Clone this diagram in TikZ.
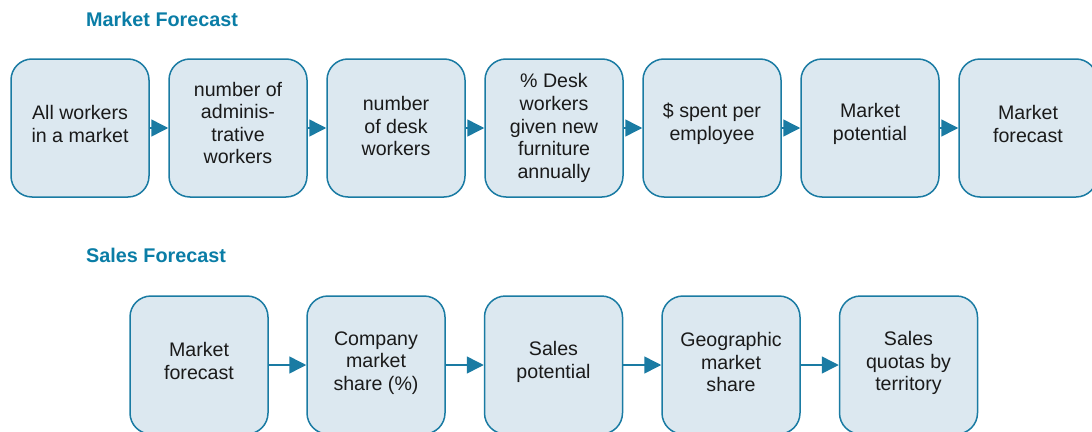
\documentclass[tikz,border=0pt]{standalone}
\usepackage{fontspec}
\setmainfont{Liberation Sans}
\usetikzlibrary{arrows.meta}
\definecolor{edge}{HTML}{1A7BA3}
\definecolor{boxfill}{HTML}{DCE8F0}
\definecolor{titleblue}{HTML}{0A7DA6}
\definecolor{txt}{HTML}{1A1A1A}
\tikzset{
  stepbox/.style={draw=edge, fill=boxfill, line width=1.5pt, rounded corners=21pt,
    minimum width=138pt, minimum height=138pt, inner sep=0pt},
  boxtext/.style={align=center, text=txt, font=\fontsize{19.6}{22.6}\selectfont, inner sep=0pt},
  flow/.style={draw=edge, line width=1.5pt, -{Triangle[length=17pt,width=17pt]}},
  title/.style={anchor=west, text=titleblue, font=\bfseries\fontsize{19.8}{22}\selectfont, inner sep=0pt}
}
\newcommand{\stepnode}[4][4pt]{\node[stepbox, label={[boxtext, yshift=#1, name=#2t]center:{#4}}] (#2) at #3 {};}
\begin{document}
\begin{tikzpicture}[x=1pt,y=-1pt]
\useasboundingbox (0,0) rectangle (1092,431);
\clip (0,0) rectangle (1092,431);
\node[title] (t1) at (86,19) {Market Forecast};
\node[title] (t2) at (86,255) {Sales Forecast};
\stepnode{a1}{(80,128)}{All workers\\in a market}
\stepnode[5pt]{a2}{(238,128)}{number of\\adminis-\\trative\\workers}
\stepnode[2pt]{a3}{(396,128)}{number\\of desk\\workers}
\stepnode[0pt]{a4}{(554,128)}{\% Desk\\workers\\given new\\furniture\\annually}
\stepnode{a5}{(712,128)}{\$ spent per\\employee}
\stepnode{a6}{(870,128)}{Market\\potential}
\stepnode{a7}{(1028,128)}{Market\\forecast}
\foreach \i/\j in {a1/a2,a2/a3,a3/a4,a4/a5,a5/a6,a6/a7} \draw[flow] (\i) -- (\j);
\stepnode{b1}{(199,365)}{Market\\forecast}
\stepnode[2pt]{b2}{(376,365)}{Company\\market\\share (\%)}
\stepnode[3pt]{b3}{(553.5,365)}{Sales\\potential}
\stepnode[3pt]{b4}{(731,365)}{Geographic\\market\\share}
\stepnode[2pt]{b5}{(908.5,365)}{Sales\\quotas by\\territory}
\foreach \i/\j in {b1/b2,b2/b3,b3/b4,b4/b5} \draw[flow] (\i) -- (\j);
\end{tikzpicture}
\end{document}
